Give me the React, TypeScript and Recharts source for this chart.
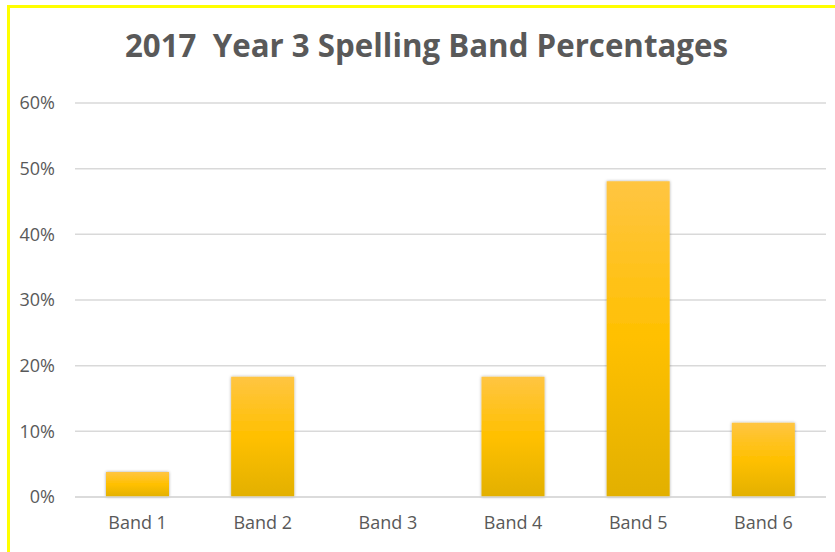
import { BarChart, Bar, XAxis, YAxis, CartesianGrid } from 'recharts'

const bands = ['Band 1', 'Band 2', 'Band 3', 'Band 4', 'Band 5', 'Band 6']
const percentages = [3.8, 18.3, 0, 18.3, 48.1, 11.3]
const yTicks = [0, 10, 20, 30, 40, 50, 60]

const data = bands.map((band, i) => ({ band, pct: percentages[i] }))

const font = '"Open Sans", "Noto Sans", sans-serif'
const grey = '#595959'

export default function App() {
  return (
    <div
      style={{
        position: 'fixed',
        top: 0,
        left: 0,
        width: 835,
        height: 552,
        overflow: 'hidden',
        background: '#fff',
      }}
    >
      {/* yellow frame, only top and left edges are in shot */}
      <div
        style={{
          position: 'absolute',
          left: 7,
          top: 5,
          width: 900,
          height: 700,
          border: '3px solid #FFFF00',
        }}
      />
      <svg width={835} height={80} style={{ position: 'absolute', top: 0, left: 0 }}>
        <text
          x={125}
          y={57}
          textLength={603}
          lengthAdjust="spacingAndGlyphs"
          fill={grey}
          fontFamily={font}
          fontWeight={700}
          fontSize={32}
          style={{ whiteSpace: 'pre' }}
        >
          2017  Year 3 Spelling Band Percentages
        </text>
      </svg>
      <div style={{ position: 'absolute', top: 0, left: 0 }}>
        <BarChart
          width={835}
          height={552}
          data={data}
          margin={{ top: 103, right: 9, bottom: 25, left: 0 }}
          barSize={63}
        >
          <defs>
            <linearGradient id="gold" x1="0" y1="0" x2="0" y2="1">
              <stop offset="0%" stopColor="#FFC542" />
              <stop offset="50%" stopColor="#FFC000" />
              <stop offset="100%" stopColor="#E2B000" />
            </linearGradient>
            <filter id="shade" x="-20%" y="-20%" width="140%" height="140%">
              <feDropShadow dx="0" dy="0" stdDeviation="1.4" floodColor="#000" floodOpacity="0.35" />
            </filter>
          </defs>
          <CartesianGrid stroke="#D9D9D9" strokeWidth={1.5} vertical={false} />
          <XAxis
            dataKey="band"
            height={30}
            tick={{ fill: grey, fontFamily: font, fontSize: 18 }}
            axisLine={{ stroke: '#D9D9D9', strokeWidth: 1.5 }}
            tickLine={false}
            tickSize={0}
            tickMargin={19}
          />
          <YAxis
            domain={[0, 60]}
            ticks={yTicks}
            tickFormatter={(v) => `${v}%`}
            tick={{ fill: grey, fontFamily: font, fontSize: 18 }}
            axisLine={false}
            tickLine={false}
            tickSize={0}
            tickMargin={20}
            width={75}
          />
          <Bar
            dataKey="pct"
            fill="url(#gold)"
            filter="url(#shade)"
            isAnimationActive={false}
          />
        </BarChart>
      </div>
    </div>
  )
}
